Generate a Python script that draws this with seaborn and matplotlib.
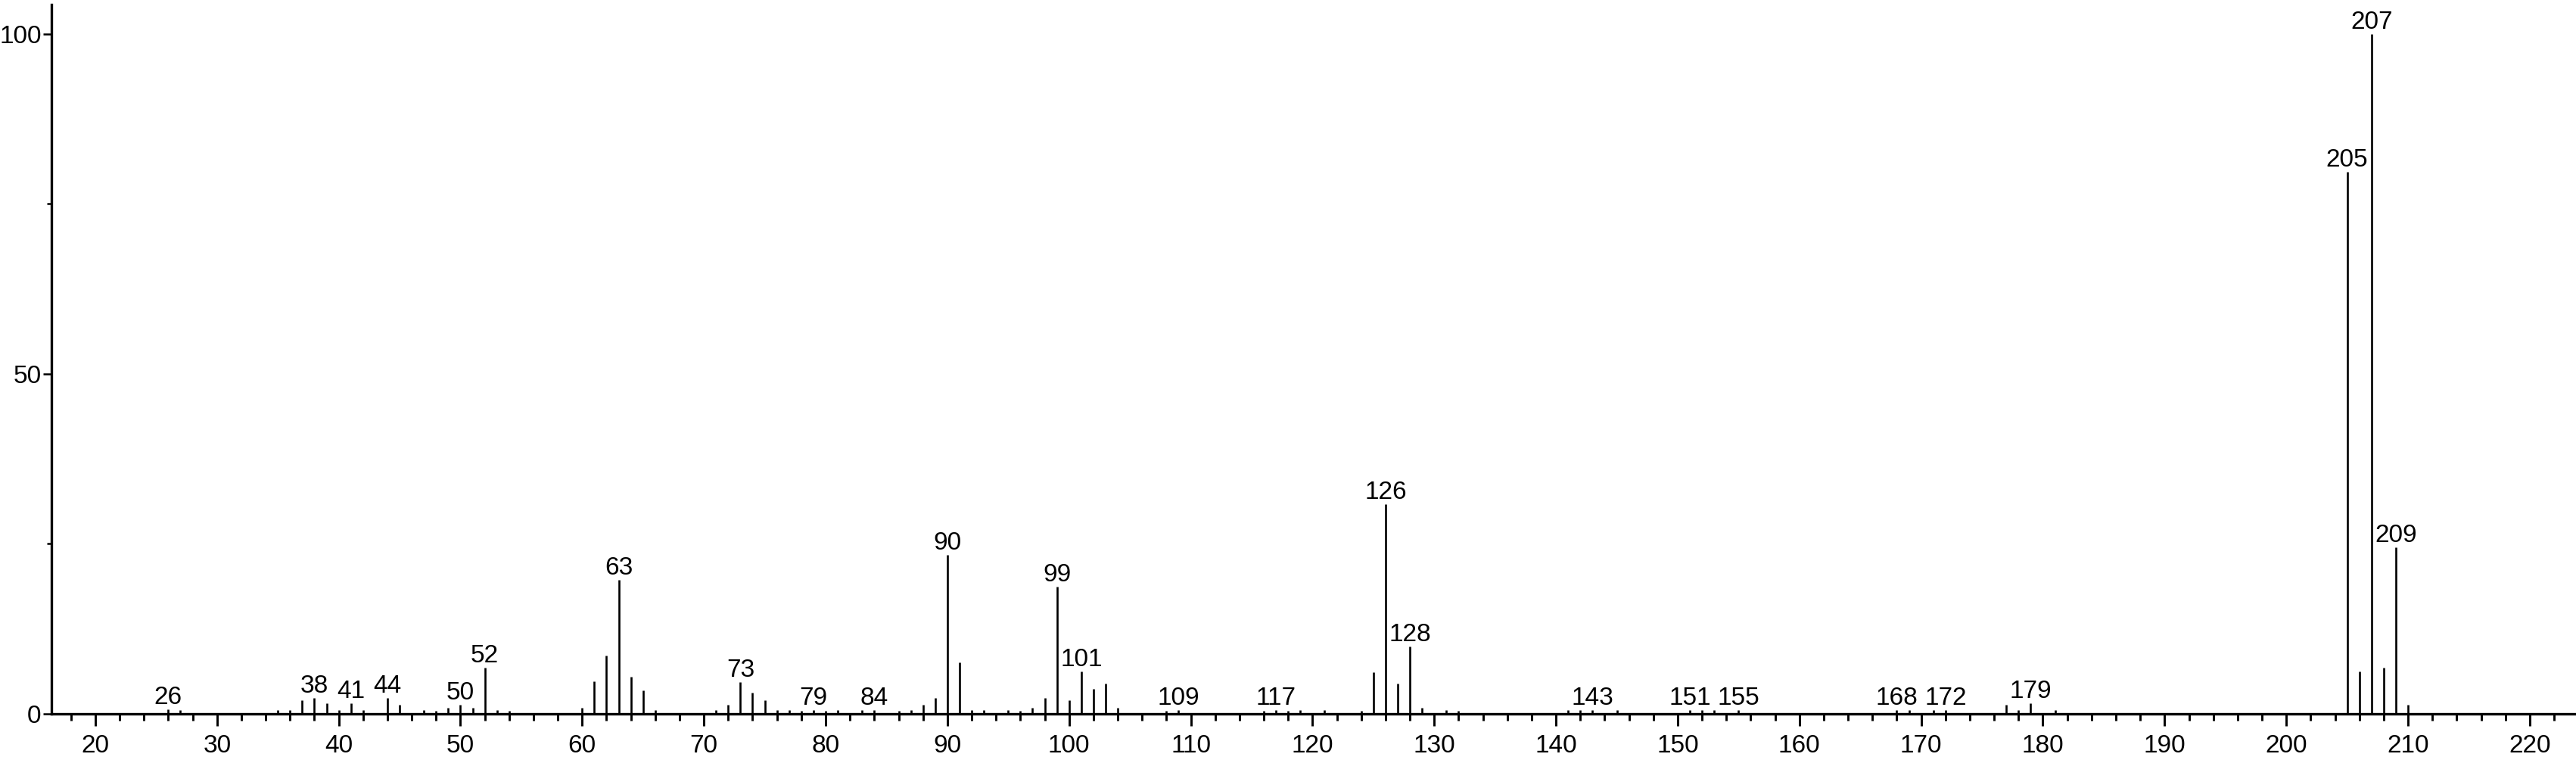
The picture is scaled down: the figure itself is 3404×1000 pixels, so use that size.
import matplotlib
matplotlib.use("Agg")
import matplotlib.pyplot as plt
import seaborn as sns
import numpy as np
from matplotlib.ticker import MultipleLocator, FixedLocator

# ---- data: m/z and relative intensity ----
mz = [26, 27, 35, 36, 37, 38, 39, 40, 41, 42, 44, 45, 47, 48, 49, 50, 51, 52, 53, 54,
      60, 61, 62, 63, 64, 65, 66, 71, 72, 73, 74, 75, 76, 77, 78, 79, 80, 81, 83, 84,
      86, 87, 88, 89, 90, 91, 92, 93, 95, 96, 97, 98, 99, 100, 101, 102, 103, 104,
      108, 109, 116, 117, 118, 119, 121, 124, 125, 126, 127, 128, 129, 131, 132,
      141, 142, 143, 145, 151, 152, 153, 155, 168, 169, 171, 172, 177, 178, 179, 181,
      205, 206, 207, 208, 209, 210]
intensity = [0.7, 0.6, 0.55, 0.55, 2.0, 2.3, 1.6, 0.55, 1.6, 0.55, 2.3, 1.3, 0.55, 0.5, 0.9, 1.3, 0.9, 6.8, 0.55, 0.5,
             0.9, 4.8, 8.6, 19.7, 5.5, 3.4, 0.55, 0.55, 1.3, 4.7, 3.1, 2.0, 0.55, 0.55, 0.5, 0.55, 0.5, 0.55, 0.55, 0.55,
             0.5, 0.55, 1.3, 2.3, 23.4, 7.6, 0.55, 0.55, 0.55, 0.5, 0.9, 2.3, 18.7, 2.0, 6.2, 3.7, 4.4, 0.9,
             0.5, 0.55, 0.5, 0.55, 0.5, 0.55, 0.55, 0.5, 6.1, 30.8, 4.4, 9.9, 0.9, 0.55, 0.5,
             0.55, 0.55, 0.55, 0.55, 0.55, 0.55, 0.55, 0.55, 0.55, 0.55, 0.55, 0.55, 1.3, 0.55, 1.6, 0.55,
             79.7, 6.2, 100.0, 6.8, 24.5, 1.3]
labeled_mz = [26, 38, 41, 44, 50, 52, 63, 73, 79, 84, 90, 99, 101, 109, 117, 126, 128,
              143, 151, 155, 168, 172, 179, 205, 207, 209]
x_major_ticks = list(range(20, 230, 10))
y_major_ticks = [0, 50, 100]
y_minor_ticks = [25, 75]

sns.set_theme(style="ticks")
plt.rcParams['font.family'] = ['Liberation Sans', 'DejaVu Sans']

fig = plt.figure(figsize=(34.04, 10.0), dpi=100)
ax = fig.add_axes([68 / 3404, 57 / 1000, 1 - 68 / 3404, 1 - 57 / 1000 - 6 / 1000])

ax.vlines(mz, 0, intensity, colors="black", linewidth=1.9)

lookup = dict(zip(mz, intensity))
for m in labeled_mz:
    ax.annotate(str(m), (m, lookup[m]), xytext=(0, 0), textcoords="offset points",
                ha="center", va="bottom", fontsize=24, color="black")

ax.set_xlim(16.4, 223.8)
ax.set_ylim(0, 104.3)

ax.xaxis.set_major_locator(FixedLocator(x_major_ticks))
ax.xaxis.set_minor_locator(MultipleLocator(2))
ax.yaxis.set_major_locator(FixedLocator(y_major_ticks))
ax.yaxis.set_minor_locator(FixedLocator(y_minor_ticks))

ax.tick_params(axis="x", which="major", direction="out", length=11.5, width=2.1,
               labelsize=24, pad=8, color="black", labelcolor="black")
ax.tick_params(axis="x", which="minor", direction="out", length=6.7, width=2.1, color="black")
ax.tick_params(axis="y", which="major", direction="out", length=7.7, width=1.8,
               labelsize=24, pad=2, color="black", labelcolor="black")
ax.tick_params(axis="y", which="minor", direction="out", length=4.0, width=1.8, color="black")

sns.despine(ax=ax)
for s in ["left", "bottom"]:
    ax.spines[s].set_linewidth(2.4)
    ax.spines[s].set_color("black")
ax.set_facecolor("white")
fig.patch.set_facecolor("white")
ax.grid(False)

fig.savefig("out.png", dpi=100, facecolor="white")
